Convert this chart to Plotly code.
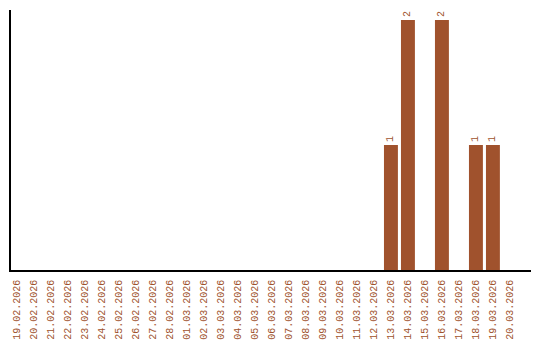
import plotly.graph_objects as go

dates = ["19.02.2026", "20.02.2026", "21.02.2026", "22.02.2026", "23.02.2026",
         "24.02.2026", "25.02.2026", "26.02.2026", "27.02.2026", "28.02.2026",
         "01.03.2026", "02.03.2026", "03.03.2026", "04.03.2026", "05.03.2026",
         "06.03.2026", "07.03.2026", "08.03.2026", "09.03.2026", "10.03.2026",
         "11.03.2026", "12.03.2026", "13.03.2026", "14.03.2026", "15.03.2026",
         "16.03.2026", "17.03.2026", "18.03.2026", "19.03.2026", "20.03.2026"]
values = [0, 0, 0, 0, 0, 0, 0, 0, 0, 0,
          0, 0, 0, 0, 0, 0, 0, 0, 0, 0,
          0, 0, 1, 2, 0, 2, 0, 1, 1, 0]
labels = [str(v) if v else "" for v in values]

color = "#A0522D"
font = "Liberation Mono, DejaVu Sans Mono, monospace"

fig = go.Figure(go.Bar(
    x=dates, y=values, text=labels, textposition="outside", textangle=-90,
    textfont=dict(family=font, size=10, color=color),
    marker=dict(color=color, line=dict(width=0)),
    cliponaxis=False, hoverinfo="skip",
))

fig.update_layout(
    width=540, height=340,
    margin=dict(l=11, r=9, t=10, b=70, autoexpand=False),
    paper_bgcolor="white", plot_bgcolor="white",
    bargap=0.18, showlegend=False,
    xaxis=dict(type="category", range=[-0.353, 30.24], showgrid=False,
               automargin=False,
               showline=True, linecolor="black", linewidth=1.5,
               ticks="", tickangle=-90, ticklabelstandoff=4,
               tickfont=dict(family=font, size=10, color=color)),
    yaxis=dict(range=[0, 2.08], showgrid=False, zeroline=False,
               automargin=False,
               showline=True, linecolor="black", linewidth=1.5,
               showticklabels=False, ticks=""),
)

fig.write_html("out.html")
